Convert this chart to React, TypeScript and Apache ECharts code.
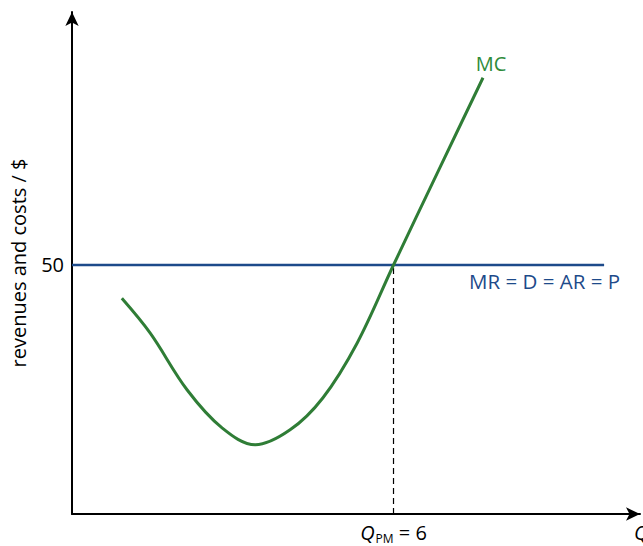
import React, { useEffect, useRef } from "react";
import * as echarts from "echarts";

const mcQ = [0.93, 1.46, 2.15, 2.8, 3.42, 4.07, 4.68, 5.32, 6.0, 6.85, 7.67];
const mcV = [43.3, 36.3, 24.9, 17.3, 13.9, 16.9, 23.3, 34.3, 50, 69.2, 87.6];
const priceQ = [0, 9.93];
const priceV = [50, 50];
const qPM = 6;
const yTicks = [50];

const FONT = "'Open Sans', 'Noto Sans', sans-serif";

export default function App() {
  const ref = useRef<HTMLDivElement>(null);
  useEffect(() => {
    if (!ref.current) return;
    const chart = echarts.init(ref.current, undefined, { renderer: "svg" });
    chart.setOption({
      animation: false,
      grid: { left: 72, top: 12, right: 3, bottom: 32, outerBoundsMode: "none", containLabel: false },
      xAxis: {
        type: "value",
        min: 0,
        max: 10.6,
        interval: qPM,
        name: "Q",
        nameLocation: "end",
        nameGap: -6,
        nameTextStyle: {
          fontFamily: FONT,
          fontSize: 20,
          fontStyle: "italic",
          color: "#000",
          align: "left",
          verticalAlign: "top",
          padding: [8, 0, 0, 0],
        },
        axisLine: {
          show: true,
          symbol: ["none", "arrow"],
          symbolSize: [10, 14],
          lineStyle: { color: "#000", width: 2 },
        },
        axisTick: { show: false },
        splitLine: { show: false },
        axisLabel: {
          margin: 6,
          showMaxLabel: false,
          formatter: (v: number) => (v === qPM ? "{q|Q}{s|PM}{e| = 6}" : ""),
          rich: {
            q: { fontFamily: FONT, fontSize: 20, fontStyle: "italic", color: "#000" },
            s: { fontFamily: FONT, fontSize: 12, color: "#000", padding: [12, 0, 0, 1] },
            e: { fontFamily: FONT, fontSize: 20, color: "#000" },
          },
        },
      },
      yAxis: {
        type: "value",
        min: 0,
        max: 100.8,
        interval: 50,
        name: "revenues and costs / $",
        nameLocation: "middle",
        nameGap: 44,
        nameTextStyle: { fontFamily: FONT, fontSize: 20, color: "#000" },
        axisLine: {
          show: true,
          symbol: ["none", "arrow"],
          symbolSize: [10, 14],
          lineStyle: { color: "#000", width: 2 },
        },
        axisTick: { show: false },
        splitLine: { show: false },
        axisLabel: {
          margin: 8,
          fontFamily: FONT,
          fontSize: 20,
          color: "#000",
          formatter: (v: number) => (yTicks.includes(v) ? String(v) : ""),
        },
      },
      series: [
        {
          type: "line",
          data: priceQ.map((q, i) => [q, priceV[i]]),
          symbol: "none",
          lineStyle: { color: "#1d4a8a", width: 2.5 },
          endLabel: {
            show: true,
            formatter: "MR = D = AR = P",
            color: "#1d4a8a",
            fontSize: 20.5,
            fontFamily: FONT,
            align: "right",
            verticalAlign: "top",
            offset: [16, 6],
            distance: 0,
          },
          z: 3,
        },
        {
          type: "line",
          data: mcQ.map((q, i) => [q, mcV[i]]),
          smooth: 0.35,
          symbol: "none",
          lineStyle: { color: "#2f7d36", width: 3 },
          endLabel: {
            show: true,
            formatter: "MC",
            color: "#2e8b3a",
            fontSize: 20,
            fontFamily: FONT,
            align: "center",
            verticalAlign: "bottom",
            offset: [8, -4],
            distance: 0,
          },
          z: 4,
        },
        {
          type: "line",
          data: [
            [qPM, 0],
            [qPM, 50],
          ],
          symbol: "none",
          lineStyle: { color: "#000", width: 1.2, type: [6, 4] },
          z: 2,
        },
      ],
    });
    return () => chart.dispose();
  }, []);
  return <div ref={ref} style={{ width: 643, height: 546, position: "absolute", left: 0, top: 0 }} />;
}
